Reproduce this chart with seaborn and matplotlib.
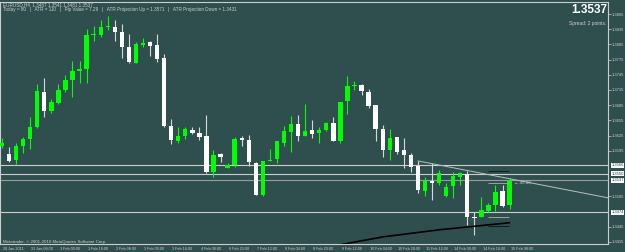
"""
EURUSD H4 candlestick chart, MetaTrader style.
"""

import matplotlib
matplotlib.use("Agg")

import matplotlib.pyplot as plt
import matplotlib.transforms as mtransforms
import numpy as np
import pandas as pd
import seaborn as sns

# ---- data -------------------------------------------------------------
opens = [
    1.3604, 1.3589, 1.3577, 1.3604, 1.3618, 1.3642, 1.3711, 1.3674, 1.3689, 1.3715,
    1.3735, 1.3752, 1.3756, 1.3824, 1.3824, 1.3839, 1.3839, 1.3829, 1.3800, 1.3768,
    1.3804, 1.3810, 1.3804, 1.3778, 1.3644, 1.3614, 1.3624, 1.3636, 1.3630, 1.3624,
    1.3553, 1.3589, 1.3561, 1.3567, 1.3620, 1.3616, 1.3571, 1.3508, 1.3575, 1.3579,
    1.3610, 1.3632, 1.3648, 1.3624, 1.3636, 1.3630, 1.3636, 1.3650, 1.3614, 1.3693,
    1.3723, 1.3725, 1.3711, 1.3685, 1.3638, 1.3597, 1.3622, 1.3597, 1.3587, 1.3565,
    1.3516, 1.3535, 1.3532, 1.3506, 1.3525, 1.3543, 1.3549, 1.3465, 1.3464, 1.3476,
    1.3488, 1.3516, 1.3487,
]
highs = [
    1.3620, 1.3602, 1.3610, 1.3622, 1.3662, 1.3727, 1.3739, 1.3697, 1.3727, 1.3745,
    1.3772, 1.3772, 1.3835, 1.3841, 1.3853, 1.3861, 1.3853, 1.3845, 1.3826, 1.3810,
    1.3818, 1.3812, 1.3826, 1.3786, 1.3658, 1.3642, 1.3642, 1.3642, 1.3642, 1.3666,
    1.3597, 1.3591, 1.3571, 1.3622, 1.3624, 1.3626, 1.3573, 1.3575, 1.3598, 1.3614,
    1.3644, 1.3664, 1.3666, 1.3687, 1.3656, 1.3642, 1.3652, 1.3662, 1.3691, 1.3743,
    1.3733, 1.3727, 1.3717, 1.3685, 1.3646, 1.3638, 1.3622, 1.3620, 1.3591, 1.3575,
    1.3543, 1.3571, 1.3557, 1.3532, 1.3553, 1.3553, 1.3555, 1.3474, 1.3504, 1.3492,
    1.3527, 1.3527, 1.3541,
]
lows = [
    1.3600, 1.3573, 1.3569, 1.3591, 1.3598, 1.3640, 1.3662, 1.3670, 1.3687, 1.3711,
    1.3701, 1.3729, 1.3729, 1.3812, 1.3820, 1.3833, 1.3812, 1.3778, 1.3768, 1.3768,
    1.3800, 1.3782, 1.3770, 1.3642, 1.3608, 1.3610, 1.3618, 1.3628, 1.3616, 1.3551,
    1.3543, 1.3573, 1.3561, 1.3563, 1.3604, 1.3565, 1.3508, 1.3506, 1.3575, 1.3571,
    1.3604, 1.3593, 1.3614, 1.3624, 1.3620, 1.3610, 1.3634, 1.3614, 1.3610, 1.3668,
    1.3715, 1.3705, 1.3679, 1.3614, 1.3583, 1.3577, 1.3589, 1.3561, 1.3553, 1.3512,
    1.3506, 1.3498, 1.3527, 1.3504, 1.3502, 1.3527, 1.3448, 1.3429, 1.3464, 1.3474,
    1.3476, 1.3484, 1.3481,
]
closes = [
    1.3610, 1.3575, 1.3604, 1.3618, 1.3642, 1.3713, 1.3674, 1.3691, 1.3715, 1.3735,
    1.3752, 1.3756, 1.3824, 1.3826, 1.3839, 1.3841, 1.3829, 1.3800, 1.3770, 1.3806,
    1.3808, 1.3802, 1.3776, 1.3644, 1.3616, 1.3624, 1.3638, 1.3630, 1.3622, 1.3553,
    1.3587, 1.3583, 1.3567, 1.3618, 1.3616, 1.3573, 1.3508, 1.3575, 1.3577, 1.3614,
    1.3634, 1.3648, 1.3624, 1.3634, 1.3628, 1.3636, 1.3650, 1.3614, 1.3691, 1.3723,
    1.3725, 1.3713, 1.3683, 1.3638, 1.3597, 1.3620, 1.3593, 1.3587, 1.3563, 1.3518,
    1.3535, 1.3532, 1.3551, 1.3523, 1.3545, 1.3551, 1.3464, 1.3462, 1.3478, 1.3488,
    1.3514, 1.3486, 1.3537,
]

date_labels = [
    "28 Jan 2011", "31 Jan 08:00", "1 Feb 00:00", "1 Feb 16:00", "2 Feb 08:00",
    "3 Feb 00:00", "3 Feb 16:00", "4 Feb 08:00", "6 Feb 23:00", "7 Feb 12:00",
    "8 Feb 04:00", "8 Feb 20:00", "9 Feb 12:00", "10 Feb 04:00", "10 Feb 20:00",
    "11 Feb 12:00", "14 Feb 00:00", "14 Feb 16:00", "15 Feb 08:00",
]
price_ticks = [1.3865, 1.3835, 1.3805, 1.3775, 1.3745, 1.3715, 1.3685, 1.3655,
               1.3625, 1.3595, 1.3505, 1.3445, 1.3415]
level_prices = [1.3566, 1.3550, 1.3537, 1.3474]

# hand-drawn objects on the chart (bar index, price)
trend_bars = [59, 86]
trend_prices = [1.3575, 1.3502]
support_bars = [47, 54, 62, 72]
support_prices = [1.3407, 1.3425, 1.3439, 1.3453]
marker_prices = [1.3555, 1.3532, 1.3464, 1.3446]

header_1 = "EURUSD,H4  1.3487 1.3541 1.3481 1.3537"
header_2 = ("Today = 80   |   ATR = 110   |   Pip Value = 7.29   |   "
            "ATR Projection Up = 1.3571   |   ATR Projection Down = 1.3431")

# ---- style ------------------------------------------------------------
BG = "#2F4F4F"
FG = "#CDCDCD"
BULL = "#00FF00"
BEAR = "#FFFFFF"
FS = 3.0

sns.set_theme(style="dark", rc={
    "figure.facecolor": BG, "axes.facecolor": BG, "axes.edgecolor": FG,
    "text.color": FG, "xtick.color": FG, "ytick.color": FG,
})
plt.rcParams["font.family"] = ["Liberation Sans", "DejaVu Sans"]

df = pd.DataFrame({"open": opens, "high": highs, "low": lows, "close": closes})
df["bar"] = np.arange(len(df))
df["bull"] = df["close"] >= df["open"]

fig = plt.figure(figsize=(6.25, 2.52), dpi=100)
ax = fig.add_axes([0.0, 8 / 252, 608 / 625, 242 / 252])
ax.set_xlim(-0.284, 85.96)
ax.set_ylim(1.34110, 1.38887)

# horizontal levels
for p, c in zip(level_prices, [FG, FG, "#9A9A9A", FG]):
    ax.axhline(p, color=c, lw=0.8, zorder=1)

# candles
wick_cols = np.where(df["bull"], BULL, "#D8D8D8")
ax.vlines(df["bar"], df["low"], df["high"], colors=wick_cols, lw=0.8, zorder=2)
body_h = np.maximum((df["close"] - df["open"]).abs(), 0.00012)
body_b = np.minimum(df["open"], df["close"])
ax.bar(df["bar"], body_h, bottom=body_b, width=0.62,
       color=np.where(df["bull"], BULL, BEAR), edgecolor="none", zorder=3)

# trend lines
sns.lineplot(x=trend_bars, y=trend_prices, ax=ax, color="#BEBEBE", lw=0.7, zorder=4)
sns.lineplot(x=support_bars, y=support_prices, ax=ax, color="black", lw=1.2, zorder=4)
for p, c in zip(marker_prices, ["#1A1A1A", "#A0A0A0", "#A0A0A0", "#1A1A1A"]):
    ax.hlines(p, 69, 71.9, colors=c, lw=0.7, zorder=4)
ax.text(72.6, 1.3532, "← 45:40", fontsize=3.2, color=FG, va="center", ha="left")

# axes
for s in ax.spines.values():
    s.set_color(FG)
    s.set_linewidth(0.8)
ax.yaxis.tick_right()
ax.set_yticks(price_ticks)
ax.set_yticklabels([f"{p:.4f}" for p in price_ticks])
ax.tick_params(axis="y", length=2.0, width=0.5, pad=0.8, labelsize=FS)
ax.set_xticks(np.arange(0, len(df), 4))
ax.set_xticklabels(date_labels, ha="left")
ax.tick_params(axis="x", length=1.6, width=0.5, pad=0.2, labelsize=2.7)
shift = mtransforms.ScaledTranslation(1.2 / 100, 0, fig.dpi_scale_trans)
for lab in ax.get_xticklabels():
    lab.set_transform(lab.get_transform() + shift)
ax.set_xlabel("")
ax.set_ylabel("")
ax.grid(False)

# highlighted price labels on the right scale
blend = mtransforms.blended_transform_factory(ax.transAxes, ax.transData)
for p in level_prices:
    ax.text(1.0055, p, f"{p:.4f}", transform=blend, fontsize=FS, color="#203838",
            va="center", ha="left", clip_on=False,
            bbox=dict(facecolor="white", edgecolor="none", pad=0.4))

# text overlays
fig.text(0.005, 1 - 4.7 / 252, header_1, fontsize=3.3, va="center", ha="left", color=FG)
fig.text(0.005, 1 - 9.5 / 252, header_2, fontsize=3.3, va="center", ha="left", color=FG)
fig.text(607 / 625, 1 - 10 / 252, "1.3537", fontsize=8.5, fontweight="bold",
         color="white", va="center", ha="right")
fig.text(606 / 625, 1 - 23 / 252, "Spread: 2 points.", fontsize=3.5,
         va="center", ha="right", color=FG)
fig.text(0.005, 1 - 241.5 / 252, "Metatrader, © 2001-2010 MetaQuotes Software Corp.",
         fontsize=3.2, va="center", ha="left", color=FG)

fig.savefig("out.png", dpi=100, facecolor=BG)
